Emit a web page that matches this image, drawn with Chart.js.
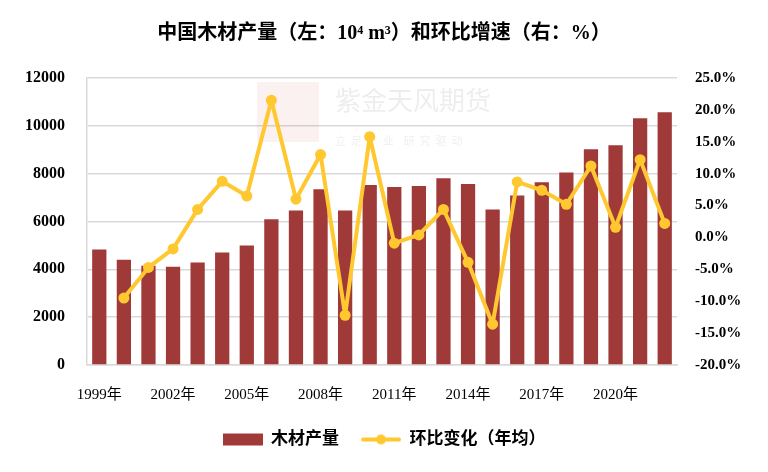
<!DOCTYPE html>
<html>
<head>
<meta charset="utf-8">
<script src="https://cdn.jsdelivr.net/npm/chart.js@4.4.0/dist/chart.umd.min.js"></script>
<style>
  html, body { margin: 0; padding: 0; background: #fff; }
  #wrap { width: 768px; height: 472px; }
</style>
</head>
<body>
<div id="wrap"><canvas id="myChart"></canvas></div>
<script>
// data
const years = ['1999年', '2000年', '2001年', '2002年', '2003年', '2004年', '2005年', '2006年', '2007年', '2008年', '2009年', '2010年',
    '2011年', '2012年', '2013年', '2014年', '2015年', '2016年', '2017年', '2018年', '2019年', '2020年', '2021年', '2022年'];
const output = [4830, 4400, 4150, 4110, 4290, 4700, 5000, 6090, 6460, 7350, 6460, 7530,
    7440, 7480, 7810, 7570, 6500, 7090, 7640, 8050, 9020, 9190, 10320, 10570];
const growth = [null, -9.5, -4.7, -1.8, 4.4, 8.8, 6.5, 21.5, 6.0, 13.0, -12.2, 15.8,
    -0.9, 0.4, 4.4, -3.9, -13.6, 8.7, 7.4, 5.2, 11.2, 1.6, 12.2, 2.2];

const serif = '"Liberation Serif", "Times New Roman", "Noto Sans CJK SC", serif';
const red = '#a03a38';
const yellow = '#ffc830';

// legend swatches
function swatch(kind) {
    const c = document.createElement('canvas');
    c.width = 40; c.height = 14;
    const g = c.getContext('2d');
    if (kind === 'bar') {
        g.fillStyle = red;
        g.fillRect(0, 1, 40, 12);
    } else {
        g.strokeStyle = yellow;
        g.lineWidth = 4;
        g.lineCap = 'round';
        g.beginPath(); g.moveTo(2, 7); g.lineTo(38, 7); g.stroke();
        g.fillStyle = yellow;
        g.beginPath(); g.arc(20, 7, 5, 0, Math.PI * 2); g.fill();
    }
    return c;
}

const watermark = {
    id: 'watermark',
    beforeDatasetsDraw(chart) {
        const g = chart.ctx;
        g.save();
        g.fillStyle = 'rgba(200,60,60,0.07)';
        g.fillRect(257, 82, 62, 60);
        g.fillStyle = 'rgba(0,0,0,0.07)';
        g.font = '26px "Noto Sans CJK SC"';
        g.textBaseline = 'middle';
        g.fillText('紫金天风期货', 335, 100);
        g.font = '11px "Noto Sans CJK SC"';
        g.fillText('立  足  产  业    研  究  驱  动', 335, 141);
        g.restore();
    }
};

const ctx = document.getElementById('myChart').getContext('2d');
const myChart = new Chart(ctx, {
    data: {
        labels: years,
        datasets: [{
            type: 'line',
            label: '环比变化（年均）',
            data: growth,
            yAxisID: 'y1',
            borderColor: yellow,
            backgroundColor: yellow,
            borderWidth: 4,
            borderJoinStyle: 'round',
            borderCapStyle: 'round',
            pointRadius: 5.5,
            pointHoverRadius: 5.5,
            pointBackgroundColor: yellow,
            pointBorderWidth: 0,
            tension: 0,
        }, {
            type: 'bar',
            label: '木材产量',
            data: output,
            yAxisID: 'y',
            backgroundColor: red,
            categoryPercentage: 1,
            barPercentage: 0.58,
        }]
    },
    options: {
        responsive: true,
        maintainAspectRatio: false,
        animation: false,
        layout: { padding: { left: 0, right: 0, top: 0, bottom: 14 } },
        plugins: {
            title: {
                display: true,
                text: '中国木材产量（左：10⁴ m³）和环比增速（右：%）',
                color: '#000',
                font: { family: serif, size: 20, weight: 'bold' },
                padding: { top: 22, bottom: 32 },
            },
            legend: {
                position: 'bottom',
                reverse: true,
                labels: {
                    usePointStyle: true,
                    pointStyleWidth: 40,
                    boxHeight: 14,
                    padding: 22,
                    color: '#000',
                    font: { family: serif, size: 17, weight: 'bold' },
                    generateLabels(chart) {
                        const items = Chart.defaults.plugins.legend.labels.generateLabels(chart);
                        items.forEach(it => {
                            it.pointStyle = swatch(it.datasetIndex === 1 ? 'bar' : 'line');
                        });
                        return items;
                    }
                }
            },
            tooltip: { enabled: false },
        },
        scales: {
            x: {
                grid: { display: false, drawTicks: false },
                border: { color: '#d9d9d9', width: 1.5 },
                ticks: {
                    autoSkip: false,
                    maxRotation: 0,
                    padding: 21,
                    color: '#000',
                    font: { family: serif, size: 15 },
                    callback: (v, i) => (i % 3 === 0 ? years[i] : ''),
                },
                afterFit: s => { s.height = 44; },
            },
            y: {
                position: 'left',
                min: 0,
                max: 12000,
                ticks: {
                    stepSize: 2000,
                    padding: 22,
                    color: '#000',
                    font: { family: serif, size: 16, weight: 'bold' },
                    callback: v => String(v),
                },
                grid: { color: '#d9d9d9', lineWidth: 1.5, drawTicks: false },
                border: { color: '#d9d9d9', width: 1.5 },
                afterFit: s => { s.width = 87; },
            },
            y1: {
                position: 'right',
                min: -20,
                max: 25,
                ticks: {
                    stepSize: 5,
                    padding: 18,
                    color: '#000',
                    font: { family: serif, size: 15, weight: 'bold' },
                    callback: v => v.toFixed(1) + '%',
                },
                grid: { display: false, drawTicks: false },
                border: { display: false },
                afterFit: s => { s.width = 91; },
            },
        }
    },
    plugins: [watermark]
});
</script>
</body>
</html>
